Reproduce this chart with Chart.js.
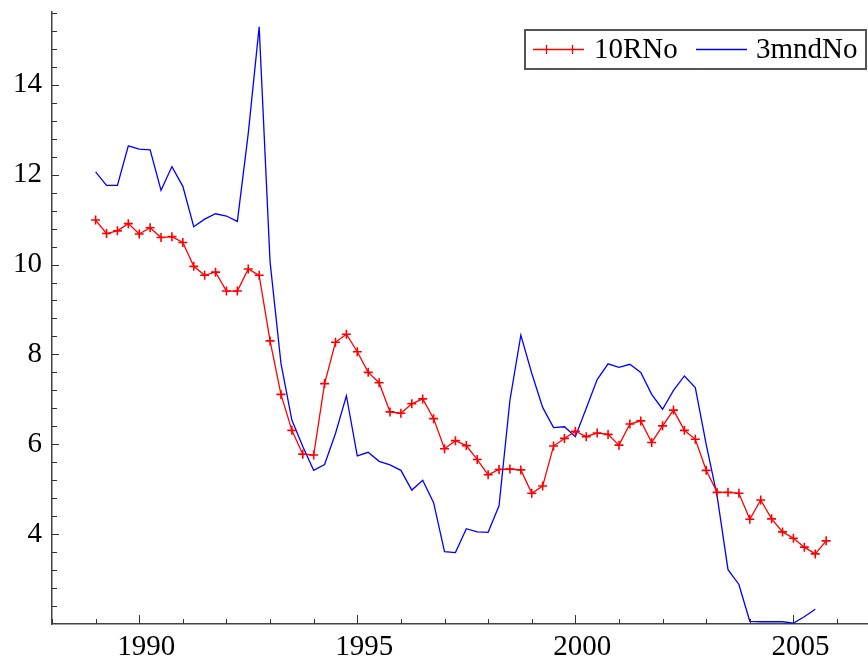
<!DOCTYPE html>
<html>
<head>
<meta charset="utf-8">
<script src="https://cdn.jsdelivr.net/npm/chart.js@4/dist/chart.umd.min.js"></script>
<style>
    body { margin: 0; background: #fff; }
    #wrap { width: 868px; height: 661px; }
</style>
</head>
<body>
<div id="wrap"><canvas id="rateChart" width="868" height="661"></canvas></div>
<script>
// Quarterly data, first observation 1989 Q1
const firstQuarter = 1989;
const seriesNames = ['10RNo', '3mndNo'];

const rate10y = [
    10.99, 10.69, 10.75, 10.91, 10.68, 10.82, 10.60, 10.62,
    10.49, 9.96, 9.76, 9.83, 9.41, 9.41, 9.90, 9.76,
    8.30, 7.11, 6.31, 5.78, 5.76, 7.35, 8.27, 8.45,
    8.06, 7.60, 7.37, 6.72, 6.69, 6.90, 7.01, 6.57,
    5.90, 6.08, 5.97, 5.66, 5.32, 5.44, 5.45, 5.43,
    4.91, 5.07, 5.96, 6.13, 6.29, 6.17, 6.25, 6.22,
    5.98, 6.45, 6.52, 6.04, 6.41, 6.76, 6.31, 6.11,
    5.42, 4.93, 4.93, 4.91, 4.33, 4.76, 4.34, 4.05,
    3.91, 3.71, 3.56, 3.85
];

const rate3m = [
    12.06, 11.76, 11.76, 12.64, 12.57, 12.55, 11.65, 12.18,
    11.74, 10.84, 11.01, 11.13, 11.08, 10.96, 12.92, 15.29,
    10.06, 7.80, 6.54, 5.95, 5.42, 5.55, 6.24, 7.08,
    5.74, 5.82, 5.62, 5.54, 5.42, 4.98, 5.20, 4.70,
    3.61, 3.59, 4.12, 4.05, 4.04, 4.63, 6.98, 8.43,
    7.58, 6.82, 6.37, 6.39, 6.17, 6.80, 7.44, 7.79,
    7.71, 7.78, 7.60, 7.11, 6.78, 7.20, 7.52, 7.26,
    6.00, 4.85, 3.21, 2.88, 2.06, 2.05, 2.05, 2.05,
    2.02, 2.16, 2.33
];

const xTickLabels = [1990, 1995, 2000, 2005];
const yTickLabels = [4, 6, 8, 10, 12, 14];

const axisFont = { family: "'Liberation Serif', 'Times New Roman', serif", size: 29 };

function toPoints(values) {
    return values.map((v, i) => ({ x: firstQuarter + i * 0.25, y: v }));
}

// small inward tick marks on both axes
const tickMarks = {
    id: 'tickMarks',
    afterDatasetsDraw(chart) {
        const { ctx, chartArea, scales: { x, y } } = chart;
        ctx.save();
        ctx.strokeStyle = '#333';
        ctx.lineWidth = 1;
        ctx.beginPath();
        for (let yr = Math.ceil(x.min); yr <= x.max; yr++) {
            const px = Math.round(x.getPixelForValue(yr)) + 0.5;
            const len = xTickLabels.includes(yr) ? 9 : 5;
            ctx.moveTo(px, chartArea.bottom);
            ctx.lineTo(px, chartArea.bottom - len);
        }
        for (let k = 1; y.min + k * 0.4 <= y.max; k++) {
            const v = y.min + k * 0.4;
            const py = Math.round(y.getPixelForValue(v)) + 0.5;
            const major = yTickLabels.some(t => Math.abs(t - v) < 0.01);
            ctx.moveTo(chartArea.left, py);
            ctx.lineTo(chartArea.left + (major ? 7 : 5), py);
        }
        ctx.stroke();
        ctx.restore();
    }
};

// boxed legend with line samples
const boxLegend = {
    id: 'boxLegend',
    afterDraw(chart) {
        const { ctx } = chart;
        const ds = chart.data.datasets;
        ctx.save();
        ctx.fillStyle = '#fff';
        ctx.fillRect(525, 30, 341, 39);
        ctx.strokeStyle = '#555';
        ctx.lineWidth = 2;
        ctx.strokeRect(525, 30, 341, 39);

        const cy = 49.5;
        ctx.lineWidth = 1.3;
        ctx.strokeStyle = ds[0].borderColor;
        ctx.beginPath();
        ctx.moveTo(533, cy); ctx.lineTo(584, cy);
        [546, 572].forEach(px => {
            ctx.moveTo(px + 0.5, cy - 4.5); ctx.lineTo(px + 0.5, cy + 4.5);
        });
        ctx.stroke();

        ctx.strokeStyle = ds[1].borderColor;
        ctx.beginPath();
        ctx.moveTo(696, cy); ctx.lineTo(747, cy);
        ctx.stroke();

        ctx.fillStyle = '#000';
        ctx.font = `${axisFont.size}px ${axisFont.family}`;
        ctx.textBaseline = 'middle';
        ctx.fillText(ds[0].label, 594, cy + 1);
        ctx.fillText(ds[1].label, 756, cy + 1);
        ctx.restore();
    }
};

new Chart(document.getElementById('rateChart'), {
    type: 'line',
    data: {
        datasets: [
            {
                label: seriesNames[0],
                data: toPoints(rate10y),
                borderColor: '#ff0000',
                backgroundColor: '#ff0000',
                borderWidth: 1.3,
                pointStyle: 'cross',
                pointRadius: 4.5,
                pointBorderWidth: 1.6,
                tension: 0
            },
            {
                label: seriesNames[1],
                data: toPoints(rate3m),
                borderColor: '#0000ff',
                backgroundColor: '#0000ff',
                borderWidth: 1.3,
                pointRadius: 0,
                tension: 0
            }
        ]
    },
    options: {
        responsive: false,
        animation: false,
        devicePixelRatio: 1,
        layout: { autoPadding: false, padding: { top: 12, right: 0, left: 0, bottom: 0 } },
        plugins: {
            legend: { display: false },
            tooltip: { enabled: false }
        },
        scales: {
            x: {
                type: 'linear',
                min: 1988,
                max: 2006.71,
                grid: { display: false, drawTicks: false },
                border: { display: true, color: '#444', width: 1.5 },
                afterFit: scale => {
                    scale.height = 37;
                    scale.paddingLeft = 0;
                    scale.paddingRight = 0;
                },
                afterBuildTicks: scale => {
                    scale.ticks = xTickLabels.map(v => ({ value: v }));
                },
                ticks: {
                    font: axisFont,
                    color: '#000',
                    padding: 6,
                    labelOffset: 7,
                    maxRotation: 0,
                    callback: v => String(v)
                }
            },
            y: {
                type: 'linear',
                min: 2.0,
                max: 15.62,
                grid: { display: false, drawTicks: false },
                border: { display: true, color: '#444', width: 1.5 },
                afterFit: scale => {
                    scale.width = 52;
                    scale.paddingTop = 0;
                    scale.paddingBottom = 0;
                },
                afterBuildTicks: scale => {
                    scale.ticks = yTickLabels.map(v => ({ value: v }));
                },
                ticks: {
                    font: axisFont,
                    color: '#000',
                    padding: 10,
                    callback: v => String(v)
                }
            }
        }
    },
    plugins: [tickMarks, boxLegend]
});
</script>
</body>
</html>
